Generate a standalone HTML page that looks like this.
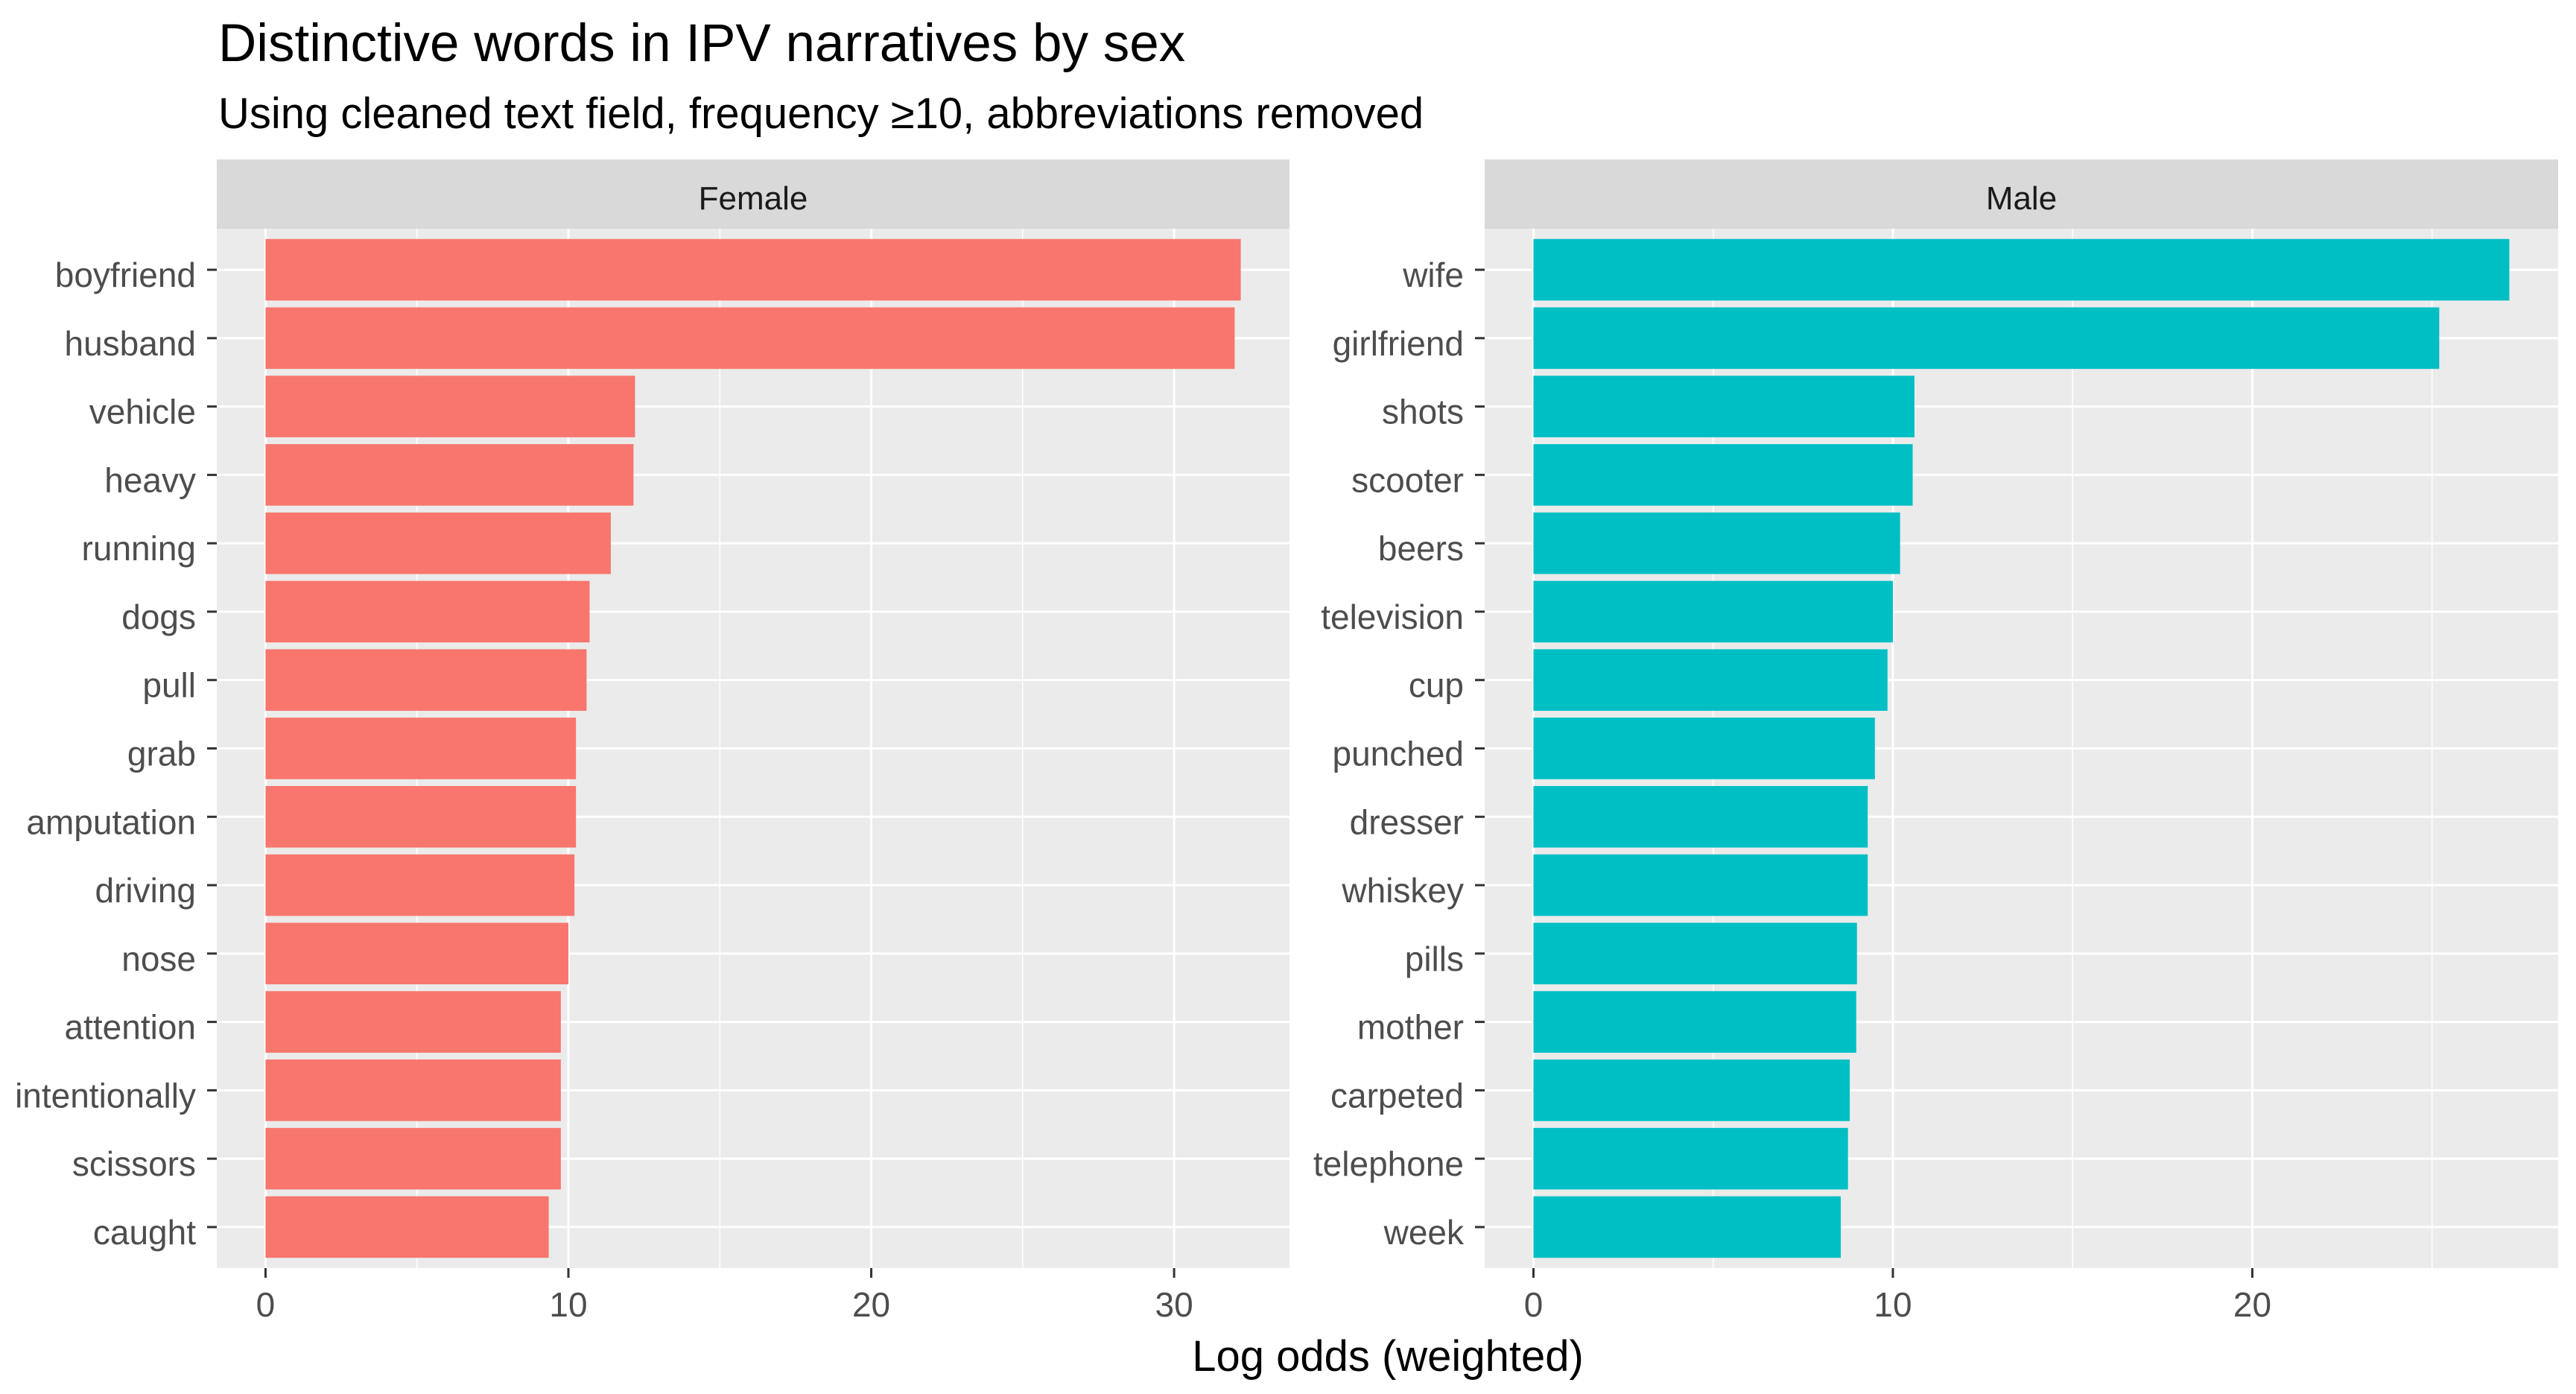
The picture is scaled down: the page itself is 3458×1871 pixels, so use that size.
<!DOCTYPE html>
<html><head><meta charset="utf-8"><style>
html,body{margin:0;padding:0;background:#fff;}
svg{display:block;font-family:"Liberation Sans",Arial,sans-serif;}
</style></head><body>
<svg id="chart" width="3458" height="1871" viewBox="0 0 3458 1871" xmlns="http://www.w3.org/2000/svg">
<text x="293" y="82" font-size="71" fill="#000">Distinctive words in IPV narratives by sex</text>
<text x="293" y="172" font-size="58" fill="#000">Using cleaned text field, frequency ≥10, abbreviations removed</text>
<text x="1863" y="1840" font-size="58" text-anchor="middle" fill="#000">Log odds (weighted)</text>
<g id="panels"></g>
</svg>
<script>
const femaleWords = ["boyfriend","husband","vehicle","heavy","running","dogs","pull","grab","amputation","driving","nose","attention","intentionally","scissors","caught"];
const femaleValues = [32.2,32.0,12.2,12.15,11.4,10.7,10.6,10.25,10.25,10.2,10.0,9.75,9.75,9.75,9.35];
const maleWords = ["wife","girlfriend","shots","scooter","beers","television","cup","punched","dresser","whiskey","pills","mother","carpeted","telephone","week"];
const maleValues = [27.15,25.2,10.6,10.55,10.2,10.0,9.85,9.5,9.3,9.3,9.0,8.98,8.8,8.75,8.55];
const femaleTicks = [0,10,20,30];
const maleTicks = [0,10,20];

const NS = "http://www.w3.org/2000/svg";
const root = document.getElementById("panels");
function mk(tag, attrs, parent){
  const e = document.createElementNS(NS, tag);
  for (const k in attrs) e.setAttribute(k, attrs[k]);
  (parent||root).appendChild(e);
  return e;
}
const PT = 307, PB = 1702, ST = 214;
function panel(name, words, values, ticks, x0, x1, color){
  const g = mk("g", {});
  
  
  const max = Math.max(...values);
  const dmin = -0.05*max, dmax = 1.05*max;
  const xs = v => x0 + (v - dmin)/(dmax - dmin)*(x1 - x0);
  const n = words.length;
  const unit = (PB - PT)/(n - 1 + 1.2);
  const ys = i => PT + unit*(0.6 + i);
  const strip = mk("rect", {x:x0, y:ST, width:x1-x0, height:PT-ST, fill:"#D9D9D9"}, g);
  
  
  const st = mk("text", {x:(x0+x1)/2, y:281, "font-size":44, "text-anchor":"middle", fill:"#1A1A1A"}, g);
  st.textContent = name === "female" ? "Female" : "Male";
  
  
  const bg = mk("rect", {x:x0, y:PT, width:x1-x0, height:PB-PT, fill:"#EBEBEB"}, g);
  
  
  for (let i = 0; i < ticks.length; i++){
    const m = ticks[i] + 5;
    if (m <= dmax){
      const l = mk("line", {x1:xs(m), x2:xs(m), y1:PT, y2:PB, stroke:"#fff", "stroke-width":1.5}, g);
      
      
    }
  }
  ticks.forEach(t => {
    const l = mk("line", {x1:xs(t), x2:xs(t), y1:PT, y2:PB, stroke:"#fff", "stroke-width":3}, g);
    
    
    const tk = mk("line", {x1:xs(t), x2:xs(t), y1:PB, y2:PB+13, stroke:"#333", "stroke-width":3}, g);
    
    
    const tl = mk("text", {x:xs(t), y:1767, "font-size":46, "text-anchor":"middle", fill:"#4D4D4D"}, g);
    tl.textContent = t;
    
    
  });
  words.forEach((w, i) => {
    const y = ys(i);
    const l = mk("line", {x1:x0, x2:x1, y1:y, y2:y, stroke:"#fff", "stroke-width":3}, g);
    
    
    const bh = unit*0.9;
    const b = mk("rect", {x:xs(0), y:y-bh/2, width:xs(values[i])-xs(0), height:bh, fill:color}, g);
    
    
    const tk = mk("line", {x1:x0-13, x2:x0, y1:y, y2:y, stroke:"#333", "stroke-width":3}, g);
    
    
    const tl = mk("text", {x:x0-28, y:y+23, "font-size":46, "text-anchor":"end", fill:"#4D4D4D"}, g);
    tl.textContent = w;
    
    
  });
}
panel("female", femaleWords, femaleValues, femaleTicks, 291, 1731, "#F8766D");
panel("male", maleWords, maleValues, maleTicks, 1993, 3434, "#00BFC4");
</script>
</body></html>
